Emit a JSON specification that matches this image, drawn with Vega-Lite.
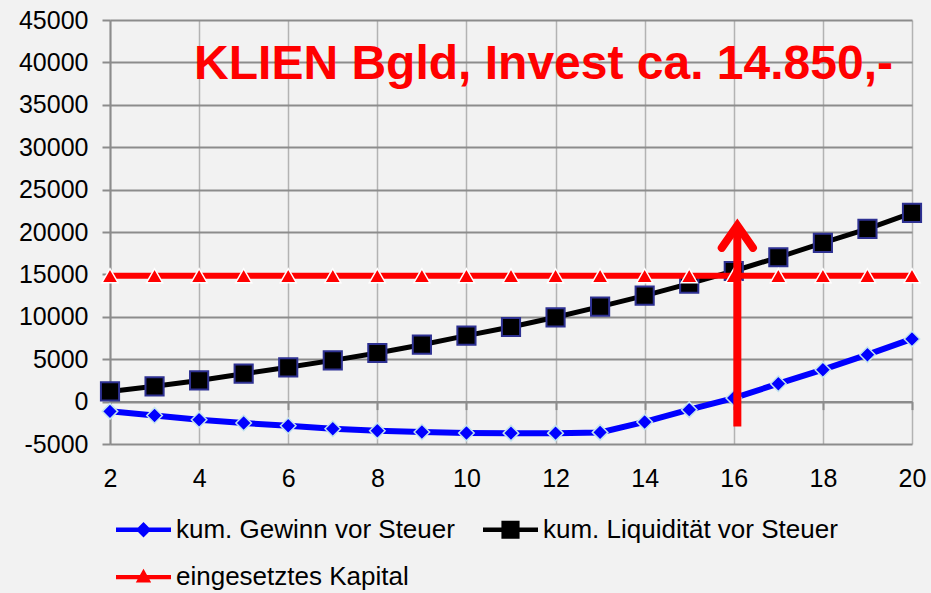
{
  "$schema": "https://vega.github.io/schema/vega-lite/v6.json",
  "width": 802,
  "height": 424,
  "autosize": {"type": "none"},
  "padding": {"left": 110, "top": 20, "right": 19, "bottom": 149},
  "background": "#F2F2F2",
  "config": {
    "view": {"stroke": null},
    "font": "Liberation Sans",
    "axis": {"labelFont": "Liberation Sans", "labelColor": "#000000"},
    "legend": {"labelFont": "Liberation Sans"}
  },
  "datasets": {
    "series": [
      {"x": 2, "series": "kum. Gewinn vor Steuer", "v": -1150},
      {"x": 3, "series": "kum. Gewinn vor Steuer", "v": -1630},
      {"x": 4, "series": "kum. Gewinn vor Steuer", "v": -2140},
      {"x": 5, "series": "kum. Gewinn vor Steuer", "v": -2530},
      {"x": 6, "series": "kum. Gewinn vor Steuer", "v": -2840},
      {"x": 7, "series": "kum. Gewinn vor Steuer", "v": -3200},
      {"x": 8, "series": "kum. Gewinn vor Steuer", "v": -3430},
      {"x": 9, "series": "kum. Gewinn vor Steuer", "v": -3590},
      {"x": 10, "series": "kum. Gewinn vor Steuer", "v": -3700},
      {"x": 11, "series": "kum. Gewinn vor Steuer", "v": -3720},
      {"x": 12, "series": "kum. Gewinn vor Steuer", "v": -3720},
      {"x": 13, "series": "kum. Gewinn vor Steuer", "v": -3630},
      {"x": 14, "series": "kum. Gewinn vor Steuer", "v": -2400},
      {"x": 15, "series": "kum. Gewinn vor Steuer", "v": -950},
      {"x": 16, "series": "kum. Gewinn vor Steuer", "v": 420},
      {"x": 17, "series": "kum. Gewinn vor Steuer", "v": 2110},
      {"x": 18, "series": "kum. Gewinn vor Steuer", "v": 3760},
      {"x": 19, "series": "kum. Gewinn vor Steuer", "v": 5530},
      {"x": 20, "series": "kum. Gewinn vor Steuer", "v": 7390},
      {"x": 2, "series": "kum. Liquidität vor Steuer", "v": 1200},
      {"x": 3, "series": "kum. Liquidität vor Steuer", "v": 1800},
      {"x": 4, "series": "kum. Liquidität vor Steuer", "v": 2500},
      {"x": 5, "series": "kum. Liquidität vor Steuer", "v": 3290},
      {"x": 6, "series": "kum. Liquidität vor Steuer", "v": 4040},
      {"x": 7, "series": "kum. Liquidität vor Steuer", "v": 4860},
      {"x": 8, "series": "kum. Liquidität vor Steuer", "v": 5730},
      {"x": 9, "series": "kum. Liquidität vor Steuer", "v": 6710},
      {"x": 10, "series": "kum. Liquidität vor Steuer", "v": 7780},
      {"x": 11, "series": "kum. Liquidität vor Steuer", "v": 8800},
      {"x": 12, "series": "kum. Liquidität vor Steuer", "v": 9940},
      {"x": 13, "series": "kum. Liquidität vor Steuer", "v": 11200},
      {"x": 14, "series": "kum. Liquidität vor Steuer", "v": 12500},
      {"x": 15, "series": "kum. Liquidität vor Steuer", "v": 13910},
      {"x": 16, "series": "kum. Liquidität vor Steuer", "v": 15400},
      {"x": 17, "series": "kum. Liquidität vor Steuer", "v": 17020},
      {"x": 18, "series": "kum. Liquidität vor Steuer", "v": 18720},
      {"x": 19, "series": "kum. Liquidität vor Steuer", "v": 20370},
      {"x": 20, "series": "kum. Liquidität vor Steuer", "v": 22260},
      {"x": 2, "series": "eingesetztes Kapital", "v": 14850},
      {"x": 3, "series": "eingesetztes Kapital", "v": 14850},
      {"x": 4, "series": "eingesetztes Kapital", "v": 14850},
      {"x": 5, "series": "eingesetztes Kapital", "v": 14850},
      {"x": 6, "series": "eingesetztes Kapital", "v": 14850},
      {"x": 7, "series": "eingesetztes Kapital", "v": 14850},
      {"x": 8, "series": "eingesetztes Kapital", "v": 14850},
      {"x": 9, "series": "eingesetztes Kapital", "v": 14850},
      {"x": 10, "series": "eingesetztes Kapital", "v": 14850},
      {"x": 11, "series": "eingesetztes Kapital", "v": 14850},
      {"x": 12, "series": "eingesetztes Kapital", "v": 14850},
      {"x": 13, "series": "eingesetztes Kapital", "v": 14850},
      {"x": 14, "series": "eingesetztes Kapital", "v": 14850},
      {"x": 15, "series": "eingesetztes Kapital", "v": 14850},
      {"x": 16, "series": "eingesetztes Kapital", "v": 14850},
      {"x": 17, "series": "eingesetztes Kapital", "v": 14850},
      {"x": 18, "series": "eingesetztes Kapital", "v": 14850},
      {"x": 19, "series": "eingesetztes Kapital", "v": 14850},
      {"x": 20, "series": "eingesetztes Kapital", "v": 14850}
    ],
    "shaft": [{"x": 16.08, "y": -2930, "y2": 20300}],
    "head": [
      {"k": 1, "x": 15.73, "y": 18130},
      {"k": 2, "x": 16.08, "y": 20760},
      {"k": 3, "x": 16.43, "y": 18130}
    ],
    "label": [{"x": 11.73, "y": 38100, "text": "KLIEN Bgld, Invest ca. 14.850,-"}]
  },
  "resolve": {"axis": {"x": "independent"}},
  "layer": [
    {
      "data": {"name": "series"},
      "transform": [{"filter": "datum.series === 'kum. Gewinn vor Steuer'"}],
      "mark": {"type": "line", "strokeWidth": 6, "strokeCap": "round"},
      "encoding": {
        "x": {
          "field": "x", "type": "quantitative",
          "scale": {"domain": [2, 20], "nice": false, "zero": false},
          "axis": {
            "orient": "bottom",
            "title": null, "values": [2, 4, 6, 8, 10, 12, 14, 16, 18, 20],
            "grid": true, "gridColor": "#B3B3B3", "gridWidth": 1.5,
            "ticks": false, "domain": false,
            "labelFontSize": 25, "labelPadding": 22, "labelFlush": false
          }
        },
        "y": {
          "field": "v", "type": "quantitative",
          "scale": {"domain": [-5000, 45000], "nice": false, "zero": false},
          "axis": {
            "title": null,
            "values": [-5000, 0, 5000, 10000, 15000, 20000, 25000, 30000, 35000, 40000, 45000],
            "labelExpr": "datum.value < 0 ? '-' + format(-datum.value, 'd') : format(datum.value, 'd')",
            "grid": true, "gridColor": "#8C8C8C", "gridWidth": 2,
            "domain": true, "domainColor": "#8C8C8C", "domainWidth": 2,
            "ticks": true, "tickSize": 8, "tickColor": "#8C8C8C", "tickWidth": 2,
            "labelFontSize": 25, "labelPadding": 14
          }
        },
        "color": {
          "field": "series", "type": "nominal",
          "scale": {
            "domain": ["kum. Gewinn vor Steuer", "kum. Liquidität vor Steuer", "eingesetztes Kapital"],
            "range": ["#0000FF", "#000000", "#FF0000"]
          },
          "legend": {
            "title": null, "orient": "bottom", "columns": 2, "direction": "horizontal",
            "labelFontSize": 26, "labelColor": "#000000", "labelLimit": 500,
            "symbolSize": 3025, "labelOffset": 5, "columnPadding": 28, "rowPadding": 6.6,
            "offset": 5, "padding": 6,
            "encode": {
              "symbols": {
                "update": {
                  "shape": {"signal": "datum.value === 'kum. Gewinn vor Steuer' ? 'M-1,-0.08L1,-0.08L1,0.08L-1,0.08Z M0,-0.28L0.28,0L0,0.28L-0.28,0Z' : datum.value === 'kum. Liquidität vor Steuer' ? 'M-1,-0.08L1,-0.08L1,0.08L-1,0.08Z M-0.33,-0.33L0.33,-0.33L0.33,0.33L-0.33,0.33Z' : 'M-1,-0.08L1,-0.08L1,0.08L-1,0.08Z M0,-0.3L0.28,0.2L-0.28,0.2Z'"},
                  "fill": {"scale": "color", "field": "value"},
                  "fillOpacity": {"value": 1},
                  "strokeWidth": {"value": 0}
                }
              }
            }
          }
        }
      }
    },
    {
      "data": {"name": "series"},
      "transform": [{"filter": "datum.series === 'kum. Gewinn vor Steuer'"}],
      "mark": {"type": "point", "shape": "diamond", "size": 240, "filled": true, "fill": "#0000FF", "stroke": "#C4E4EE", "strokeWidth": 1.5, "opacity": 1},
      "encoding": {
        "x": {"field": "x", "type": "quantitative", "axis": null},
        "y": {"field": "v", "type": "quantitative"}
      }
    },
    {
      "data": {"name": "series"},
      "transform": [{"filter": "datum.series === 'kum. Liquidität vor Steuer'"}],
      "mark": {"type": "line", "strokeWidth": 5},
      "encoding": {
        "x": {"field": "x", "type": "quantitative", "axis": null},
        "y": {"field": "v", "type": "quantitative"},
        "color": {"field": "series", "type": "nominal"}
      }
    },
    {
      "data": {"name": "series"},
      "transform": [{"filter": "datum.series === 'kum. Liquidität vor Steuer'"}],
      "mark": {"type": "point", "shape": "square", "size": 330, "filled": true, "fill": "#000000", "stroke": "#2E3192", "strokeWidth": 2, "opacity": 1},
      "encoding": {
        "x": {"field": "x", "type": "quantitative", "axis": null},
        "y": {"field": "v", "type": "quantitative"}
      }
    },
    {
      "data": {"name": "series"},
      "transform": [{"filter": "datum.series === 'eingesetztes Kapital'"}],
      "mark": {"type": "line", "strokeWidth": 6},
      "encoding": {
        "x": {
          "field": "x", "type": "quantitative",
          "axis": {
            "orient": "bottom",
            "title": null, "values": [2, 4, 6, 8, 10, 12, 14, 16, 18, 20],
            "offset": -42.4, "labels": false, "grid": false,
            "domain": true, "domainColor": "#8C8C8C", "domainWidth": 2,
            "ticks": true, "tickSize": 8, "tickColor": "#8C8C8C", "tickWidth": 2
          }
        },
        "y": {"field": "v", "type": "quantitative"},
        "color": {"field": "series", "type": "nominal"}
      }
    },
    {
      "data": {"name": "series"},
      "transform": [{"filter": "datum.series === 'eingesetztes Kapital'"}],
      "mark": {"type": "point", "shape": "triangle-up", "size": 260, "filled": true, "fill": "#FF0000", "stroke": "#FFFFFF", "strokeWidth": 1.5, "opacity": 1},
      "encoding": {
        "x": {"field": "x", "type": "quantitative", "axis": null},
        "y": {"field": "v", "type": "quantitative"}
      }
    },
    {
      "data": {"name": "shaft"},
      "mark": {"type": "rule", "color": "#FF0000", "strokeWidth": 8, "strokeCap": "butt"},
      "encoding": {
        "x": {"field": "x", "type": "quantitative", "axis": null},
        "y": {"field": "y", "type": "quantitative"},
        "y2": {"field": "y2"}
      }
    },
    {
      "data": {"name": "head"},
      "mark": {"type": "line", "color": "#FF0000", "strokeWidth": 8, "strokeCap": "round", "strokeJoin": "miter"},
      "encoding": {
        "x": {"field": "x", "type": "quantitative", "axis": null},
        "y": {"field": "y", "type": "quantitative"},
        "order": {"field": "k"}
      }
    },
    {
      "data": {"name": "label"},
      "mark": {"type": "text", "font": "Liberation Sans", "fontSize": 48, "fontWeight": "bold", "color": "#FF0000", "align": "center", "baseline": "alphabetic"},
      "encoding": {
        "x": {"field": "x", "type": "quantitative", "axis": null},
        "y": {"field": "y", "type": "quantitative"},
        "text": {"field": "text"}
      }
    }
  ]
}
